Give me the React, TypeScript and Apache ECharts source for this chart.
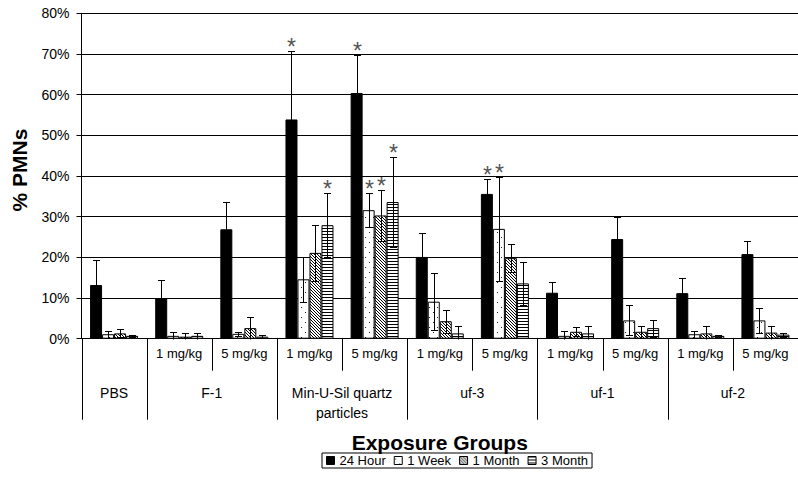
import React, { useEffect, useRef } from 'react';
import * as echarts from 'echarts';

// ---- data ----
const catKeys = [
  'PBS',
  'F-1 1', 'F-1 5',
  'MUS 1', 'MUS 5',
  'uf-3 1', 'uf-3 5',
  'uf-1 1', 'uf-1 5',
  'uf-2 1', 'uf-2 5',
];
const subLabels = ['', '1 mg/kg', '5 mg/kg', '1 mg/kg', '5 mg/kg', '1 mg/kg', '5 mg/kg', '1 mg/kg', '5 mg/kg', '1 mg/kg', '5 mg/kg'];
const groupNames = ['PBS', 'F-1', 'Min-U-Sil quartz\nparticles', 'uf-3', 'uf-1', 'uf-2'];
const groupFirst = [0, 1, 3, 5, 7, 9];
const groupLast = [0, 2, 4, 6, 8, 10];
const seriesNames = ['24 Hour', '1 Week', '1 Month', '3 Month'];

const h24 = [13.2, 9.9, 26.9, 53.9, 60.4, 20.1, 35.6, 11.3, 24.5, 11.2, 20.8];
const h24Err = [6.2, 4.6, 6.8, 16.9, 9.4, 6.0, 3.6, 2.6, 5.4, 3.8, 3.2];
const w1 = [1.1, 0.7, 1.2, 14.6, 31.6, 9.1, 27.0, 0.7, 4.5, 1.1, 4.5];
const w1Err = [0.9, 0.9, 0.5, 5.5, 4.2, 7.0, 12.7, 1.3, 3.7, 0.9, 3.0];
const m1 = [1.3, 0.5, 2.6, 21.1, 30.3, 4.3, 19.8, 1.7, 1.7, 1.3, 1.5];
const m1Err = [1.0, 0.8, 2.8, 6.8, 6.3, 2.8, 3.4, 1.1, 1.5, 1.7, 1.5];
const m3 = [0.7, 0.7, 0.5, 27.9, 33.6, 1.3, 13.6, 1.3, 2.6, 0.7, 1.0];
const m3Err = [0.3, 0.7, 0.3, 7.9, 11.0, 1.7, 5.3, 1.7, 2.1, 0.3, 0.5];

const h24Star = [0, 0, 0, 1, 1, 0, 1, 0, 0, 0, 0];
const w1Star = [0, 0, 0, 0, 1, 0, 1, 0, 0, 0, 0];
const m1Star = [0, 0, 0, 0, 1, 0, 0, 0, 0, 0, 0];
const m3Star = [0, 0, 0, 1, 1, 0, 0, 0, 0, 0, 0];

const yMin = 0;
const yMax = 80;
const yStep = 10;

const FONT = '"Liberation Sans", Arial, sans-serif';

function makeTile(w: number, h: number, on: (x: number, y: number) => boolean, ink = '#000') {
  const c = document.createElement('canvas');
  c.width = w;
  c.height = h;
  const ctx = c.getContext('2d')!;
  ctx.fillStyle = '#fff';
  ctx.fillRect(0, 0, w, h);
  ctx.fillStyle = ink;
  for (let y = 0; y < h; y++) {
    for (let x = 0; x < w; x++) {
      if (on(x, y)) ctx.fillRect(x, y, 1, 1);
    }
  }
  return { image: c, repeat: 'repeat', imageWidth: w, imageHeight: h } as any;
}

export default function App() {
  const ref = useRef<HTMLDivElement>(null);

  useEffect(() => {
    if (!ref.current) return;
    const chart = echarts.init(ref.current, null, { renderer: 'svg' });

    const fills = [
      '#000',
      makeTile(8, 10, (x, y) => (x === 1 && y === 2) || (x === 5 && y === 7), '#222'),
      makeTile(3, 3, (x, y) => ((x - y) % 3 + 3) % 3 === 0),
      makeTile(3, 3, (_x, y) => y === 0),
    ];
    const vals = [h24, w1, m1, m3];
    const errs = [h24Err, w1Err, m1Err, m3Err];
    const stars = [h24Star, w1Star, m1Star, m3Star];
    const barW = 12;

    const barSeries = seriesNames.map((name, i) => ({
      name,
      type: 'bar',
      data: vals[i],
      barWidth: barW,
      barGap: '0%',
      itemStyle: { color: fills[i], borderColor: '#000', borderWidth: 1 },
      z: 2,
    }));

    const errSeries = seriesNames.map((_name, i) => ({
      type: 'custom',
      z: 4,
      silent: true,
      encode: { x: 0, y: 1 },
      data: vals[i].map((v, k) => [k, v, errs[i][k], stars[i][k]]),
      renderItem: (_params: any, api: any) => {
        const idx = api.value(0);
        const v = api.value(1);
        const e = api.value(2);
        const star = api.value(3);
        const cx = Math.round(api.coord([idx, 0])[0] + (i - 1.5) * barW) + 0.5;
        const yTop = Math.round(api.coord([idx, v + e])[1]) + 0.5;
        const lowV = v - e;
        const yBot = Math.round(api.coord([idx, Math.max(0, lowV)])[1]) + 0.5;
        const st = { stroke: '#000', lineWidth: 1 };
        const children: any[] = [
          { type: 'line', shape: { x1: cx, y1: yTop, x2: cx, y2: yBot }, style: st },
          { type: 'line', shape: { x1: cx - 3.5, y1: yTop, x2: cx + 3.5, y2: yTop }, style: st },
        ];
        if (lowV > 0) {
          children.push({ type: 'line', shape: { x1: cx - 3.5, y1: yBot, x2: cx + 3.5, y2: yBot }, style: st });
        }
        if (star) {
          children.push({
            type: 'text',
            style: {
              text: '*', x: cx, y: yTop - 5, align: 'center', verticalAlign: 'middle',
              font: '23px ' + FONT, fill: '#555',
            },
          });
        }
        return { type: 'group', children };
      },
    }));

    const option: any = {
      animation: false,
      backgroundColor: '#fff',
      grid: { left: 81.5, top: 13.3, width: 723.8, height: 325.4, containLabel: false },
      xAxis: {
        type: 'category',
        data: catKeys,
        boundaryGap: true,
        axisLine: { show: true, lineStyle: { color: '#000', width: 1 } },
        axisTick: { show: false },
        axisLabel: {
          interval: 0,
          margin: 8,
          fontSize: 13,
          color: '#000',
          fontFamily: FONT,
          formatter: (_v: string, idx: number) => subLabels[idx],
        },
        splitLine: { show: false },
      },
      yAxis: {
        type: 'value',
        min: yMin,
        max: yMax,
        interval: yStep,
        axisLine: { show: true, lineStyle: { color: '#000', width: 1 } },
        axisTick: { show: true, length: 5, lineStyle: { color: '#000' } },
        axisLabel: { formatter: '{value}%', fontSize: 14, color: '#000', margin: 12, fontFamily: FONT },
        splitLine: { show: true, lineStyle: { color: '#000', width: 1 } },
      },
      legend: {
        data: seriesNames,
        left: 322,
        top: 453,
        icon: 'rect',
        itemWidth: 8,
        itemHeight: 8,
        itemGap: 8,
        padding: [1, 4, 1, 4],
        borderColor: '#000',
        borderWidth: 1,
        selectedMode: false,
        itemStyle: { borderColor: '#000', borderWidth: 1 },
        textStyle: { fontSize: 13, color: '#000', fontFamily: FONT },
      },
      series: [...barSeries, ...errSeries],
    };
    chart.setOption(option);

    // axis-derived positions for the multi-level category labels
    const cx = (k: number) => chart.convertToPixel({ xAxisIndex: 0 }, k) as number;
    const y0 = chart.convertToPixel({ yAxisIndex: 0 }, 0) as number;
    const bw = cx(1) - cx(0);
    const subRow = 32;
    const fullRow = 81;
    const graphics: any[] = [];
    const lineSt = { stroke: '#000', lineWidth: 1 };
    groupFirst.forEach((f, g) => {
      const l = groupLast[g];
      const xl = Math.round(cx(f) - bw / 2) + 0.5;
      graphics.push({ type: 'line', shape: { x1: xl, y1: y0, x2: xl, y2: y0 + fullRow }, style: lineSt, silent: true });
      if (l > f) {
        const xm = Math.round(cx(f) + bw / 2) + 0.5;
        graphics.push({ type: 'line', shape: { x1: xm, y1: y0, x2: xm, y2: y0 + subRow }, style: lineSt, silent: true });
      }
      graphics.push({
        type: 'text',
        x: (cx(f) + cx(l)) / 2,
        y: y0 + 44,
        silent: true,
        style: {
          text: groupNames[g], align: 'center', verticalAlign: 'top', lineHeight: 20,
          font: '14px ' + FONT, fill: '#000',
        },
      });
    });
    const xEnd = Math.round(cx(catKeys.length - 1) + bw / 2) + 0.5;
    graphics.push({ type: 'line', shape: { x1: xEnd, y1: y0, x2: xEnd, y2: y0 + fullRow }, style: lineSt, silent: true });

    const plotMid = (cx(0) - bw / 2 + cx(catKeys.length - 1) + bw / 2) / 2;
    graphics.push({
      type: 'text', x: plotMid, y: y0 + 104, silent: true,
      style: { text: 'Exposure Groups', align: 'center', verticalAlign: 'middle', font: 'bold 21px ' + FONT, fill: '#000' },
    });
    graphics.push({
      type: 'text', x: 19, y: 170, rotation: Math.PI / 2, silent: true,
      style: { text: '% PMNs', align: 'center', verticalAlign: 'middle', font: 'bold 21px ' + FONT, fill: '#000' },
    });
    chart.setOption({ graphic: graphics });

    return () => chart.dispose();
  }, []);

  return (
    <div
      ref={ref}
      style={{ position: 'absolute', left: 0, top: 0, width: 798, height: 484, background: '#fff' }}
    />
  );
}
